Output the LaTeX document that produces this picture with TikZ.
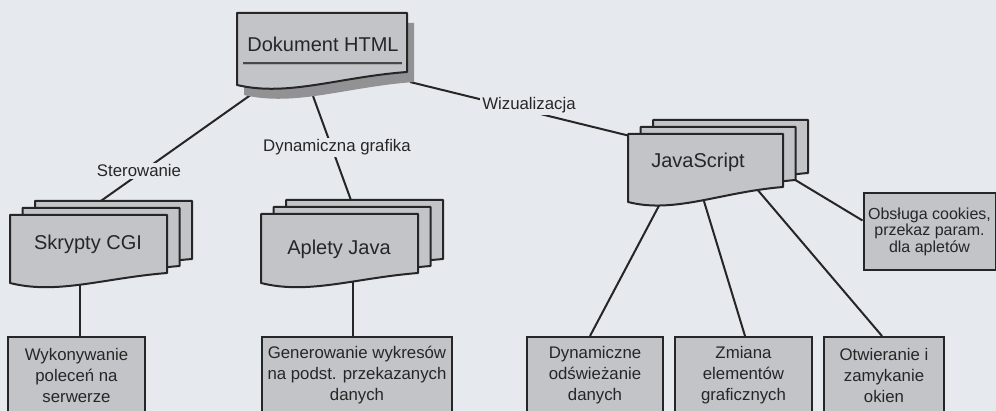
\documentclass[tikz,border=0pt]{standalone}
\usepackage{fontspec}
\setmainfont{Liberation Sans}
\definecolor{bg}{HTML}{E6EAEF}
\definecolor{boxfill}{HTML}{C3C4C7}
\definecolor{shadowgray}{HTML}{929294}
\definecolor{ink}{HTML}{262626}
\pgfdeclarelayer{paper}
\pgfdeclarelayer{lines}
\pgfdeclarelayer{shapes}
\pgfsetlayers{paper,lines,shapes,main}
% #1 style, #2 x, #3 y, #4 w, #5 h (left side), #6 rise of right bottom corner
\newcommand\docpage[6]{%
  \path[#1] (#2,#3) -- (#2+#4,#3) -- (#2+#4,#3+#5-#6)
    .. controls (#2+0.6*#4,#3+#5-#6+5) and (#2+0.3*#4,#3+#5+12) .. (#2,#3+#5) -- cycle;}
\newcommand\docstack[5]{%
  \docpage{docstyle}{#1+25}{#2-14}{#3}{#4}{#5}%
  \docpage{docstyle}{#1+12.5}{#2-7}{#3}{#4}{#5}%
  \docpage{docstyle}{#1}{#2}{#3}{#4}{#5}}
\tikzset{
  docstyle/.style={draw=ink, line width=2pt, fill=boxfill, line join=round},
  maintext/.style={font=\fontsize{20}{24}\selectfont, text=ink, inner sep=0pt, anchor=base},
  elabel/.style={font=\fontsize{16.8}{20}\selectfont, text=ink, fill=bg, inner sep=2pt, anchor=base},
  leaf/.style={draw=ink, line width=2pt, fill=boxfill, text=ink,
    font=\fontsize{16.8}{21}\selectfont, align=center, inner sep=0pt, minimum height=76pt},
  conn/.style={draw=ink, line width=2pt}
}
\begin{document}
\begin{tikzpicture}[x=1pt,y=-1pt]
\useasboundingbox (0,0) rectangle (996,411);
\begin{pgfonlayer}{paper}
  \fill[bg] (0,0) rectangle (996,411);
\end{pgfonlayer}

% text of the document shapes
\node[maintext] (dok) at (323,52) {Dokument HTML};
\node[maintext] (cgi) at (88,250) {Skrypty CGI};
\node[maintext] (java) at (339,255) {Aplety Java};
\node[maintext] (js) at (698,168) {JavaScript};

% leaf boxes
\node[leaf, minimum width=137pt] (wyk) at (76.5,375) {Wykonywanie\\poleceń na\\serwerze};
\node[leaf, minimum width=190pt] (gen) at (357,375) {Generowanie wykresów\\na podst. przekazanych\\danych};
\node[leaf, minimum width=136pt] (dyn) at (595,375) {Dynamiczne\\odświeżanie\\danych};
\node[leaf, minimum width=137pt] (zmi) at (743.5,375) {Zmiana\\elementów\\graficznych};
\node[leaf, minimum width=120pt] (otw) at (884,375) {Otwieranie i\\zamykanie\\okien};
\node[leaf, minimum width=132pt, minimum height=77pt, font=\fontsize{16}{16.5}\selectfont] (obs) at (929.5,231.5) {Obsługa cookies,\\przekaz param.\\dla apletów};

% edge labels
\node[elabel] (lster) at (139,177) {Sterowanie};
\node[elabel] (ldyn) at (337,152) {Dynamiczna grafika};
\node[elabel] (lwiz) at (529,110) {Wizualizacja};

% underline in the HTML document
\draw[ink!85, line width=1.3pt] ([shift={(-4,11)}]dok.base west) -- ([shift={(3,11)}]dok.base east);
\draw[ink!40, line width=1pt] ([shift={(-4,13)}]dok.base west) -- ([shift={(3,13)}]dok.base east);

\begin{pgfonlayer}{shapes}
  \docpage{fill=shadowgray}{244}{23}{170}{72}{13}
  \docpage{docstyle}{237}{13}{170}{72}{13}
  \docstack{10}{215}{157}{68}{10}
  \docstack{261}{214}{157}{69}{10}
  \docstack{628}{134}{155}{68}{15}
\end{pgfonlayer}

\begin{pgfonlayer}{lines}
  \draw[conn] ([shift={(-71,42)}]dok.base) -- ([shift={(10,-47)}]cgi.base);
  \draw[conn] ([shift={(-10,44)}]dok.base) -- ([shift={(13,-52)}]java.base);
  \draw[conn] ([shift={(87,30)}]dok.base) -- ([shift={(-68,-32)}]js.base);
  \draw[conn] ([shift={(-8,30)}]cgi.base) -- ([shift={(3.5,0)}]wyk.north);
  \draw[conn] ([shift={(14,22)}]java.base) -- ([shift={(-4,0)}]gen.north);
  \draw[conn] ([shift={(-36,32)}]js.base) -- ([shift={(-5,0)}]dyn.north);
  \draw[conn] ([shift={(5,30)}]js.base) -- ([shift={(1.5,0)}]zmi.north);
  \draw[conn] ([shift={(58,20)}]js.base) -- ([shift={(-2,0)}]otw.north);
  \draw[conn] ([shift={(94,10)}]js.base) -- ([shift={(0,-11)}]obs.west);
\end{pgfonlayer}
\end{tikzpicture}
\end{document}
